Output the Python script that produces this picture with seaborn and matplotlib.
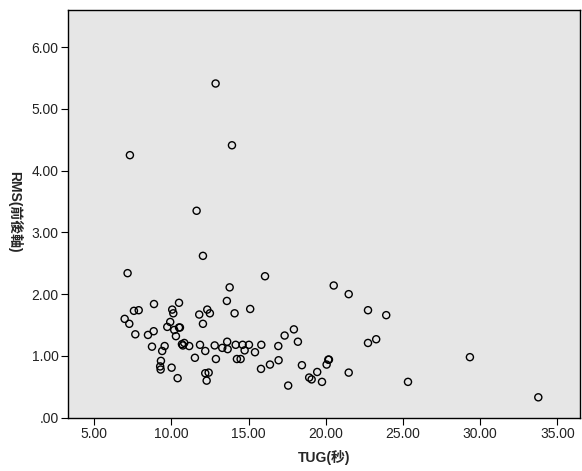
import matplotlib
matplotlib.use("Agg")
import matplotlib.pyplot as plt
import seaborn as sns
import pandas as pd

tug = [12.86, 13.92, 7.31, 11.63, 12.04, 7.16, 16.06,
       6.97, 7.27, 7.57, 7.88, 7.66, 8.87, 8.48, 8.85, 8.74, 9.56,
       9.40, 9.32, 9.27, 9.30, 10.05, 10.12, 10.49, 9.92, 9.73, 10.18,
       10.49, 10.55, 10.29, 10.68, 10.83, 10.74, 11.15, 10.01, 10.40, 11.52,
       11.80, 12.32, 12.49, 12.04, 11.85, 12.19, 12.19, 12.41, 12.28, 12.80,
       12.88, 13.29, 13.61, 13.64, 13.59, 13.77, 14.09, 14.16, 14.24, 14.48,
       14.61, 14.74, 15.02, 15.10, 15.41, 15.82, 15.80, 16.38, 16.92, 16.94,
       17.33, 17.93, 18.19, 17.56, 18.45, 18.92, 19.08, 19.44,
       20.51, 21.48, 22.73, 23.91, 22.73, 23.26, 20.16, 20.05, 20.20, 19.75,
       21.48, 25.32, 29.33, 33.76]
rms = [5.41, 4.41, 4.25, 3.35, 2.62, 2.34, 2.29,
       1.60, 1.52, 1.73, 1.74, 1.35, 1.84, 1.34, 1.40, 1.15, 1.16,
       1.08, 0.92, 0.83, 0.78, 1.75, 1.69, 1.86, 1.55, 1.47, 1.42,
       1.46, 1.46, 1.32, 1.19, 1.21, 1.17, 1.16, 0.81, 0.64, 0.97,
       1.67, 1.75, 1.69, 1.52, 1.18, 1.08, 0.72, 0.73, 0.60, 1.17,
       0.95, 1.13, 1.23, 1.11, 1.89, 2.11, 1.69, 1.18, 0.95, 0.95,
       1.18, 1.09, 1.18, 1.76, 1.06, 1.18, 0.79, 0.86, 1.16, 0.93,
       1.33, 1.43, 1.23, 0.52, 0.85, 0.65, 0.62, 0.74,
       2.14, 2.00, 1.74, 1.66, 1.21, 1.27, 0.94, 0.86, 0.94, 0.58,
       0.73, 0.58, 0.98, 0.33]

x_ticks = [5, 10, 15, 20, 25, 30, 35]
x_tick_labels = ["5.00", "10.00", "15.00", "20.00", "25.00", "30.00", "35.00"]
y_ticks = [0, 1, 2, 3, 4, 5, 6]
y_tick_labels = [".00", "1.00", "2.00", "3.00", "4.00", "5.00", "6.00"]

df = pd.DataFrame({"TUG": tug, "RMS": rms})

sns.set_style("ticks")
fams = ["Liberation Sans", "Noto Sans CJK TC", "DejaVu Sans"]
plt.rcParams["font.family"] = fams

fig = plt.figure(figsize=(5.82, 4.71), dpi=100)
ax = fig.add_axes([68.3 / 582, (471 - 417.7) / 471, (580 - 68.3) / 582, (417.7 - 10) / 471])
ax.set_facecolor("#e6e6e6")

sns.scatterplot(data=df, x="TUG", y="RMS", ax=ax, marker="o", s=26,
                facecolor="none", edgecolor="black", linewidth=1.0, zorder=3)

ax.set_xlim(3.32, 36.46)
ax.set_ylim(0, 6.60)
ax.set_xticks(x_ticks)
ax.set_xticklabels(x_tick_labels)
ax.set_yticks(y_ticks)
ax.set_yticklabels(y_tick_labels)
ax.tick_params(axis="both", direction="out", length=5, width=0.8, color="black",
               labelsize=10, labelcolor="#222222", pad=2)
for s in ax.spines.values():
    s.set_visible(True)
    s.set_color("black")
    s.set_linewidth(1.0)

ax.set_xlabel("TUG(秒)", fontsize=10, fontweight="bold", family=fams, labelpad=6)
ax.set_ylabel("RMS(前後軸)", fontsize=10, fontweight="bold", family=fams,
              rotation=270, va="center", ha="center")
ax.yaxis.set_label_coords(-0.104, 0.505)

fig.savefig("out.png", dpi=100)
